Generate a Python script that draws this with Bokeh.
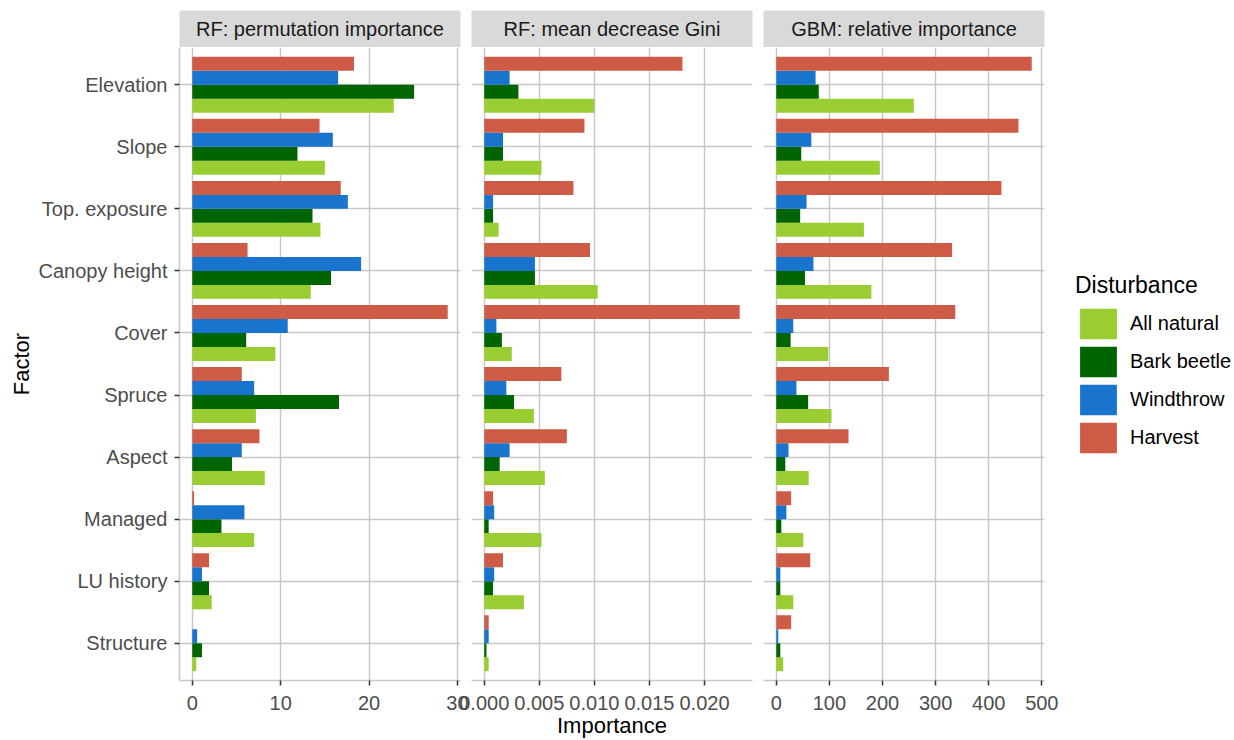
from bokeh.plotting import figure
from bokeh.models import (Range1d, FixedTicker, ColumnDataSource, Legend, LegendItem,
                          Label, NumeralTickFormatter, BasicTickFormatter)
from bokeh.layouts import row, column
from bokeh.transform import dodge
from bokeh.embed import file_html
from bokeh.resources import INLINE

FONT = "Liberation Sans"

# ---------------- data ----------------
factors = ["Elevation", "Slope", "Top. exposure", "Canopy height", "Cover",
           "Spruce", "Aspect", "Managed", "LU history", "Structure"]
disturbances = ["All natural", "Bark beetle", "Windthrow", "Harvest"]
panel_titles = ["RF: permutation importance", "RF: mean decrease Gini", "GBM: relative importance"]

perm_ticks = [0, 10, 20, 30]
gini_ticks = [0.0, 0.005, 0.010, 0.015, 0.020]
gbm_ticks = [0, 100, 200, 300, 400, 500]

rf_perm_all_natural = [22.8, 15.0, 14.5, 13.4, 9.4, 7.2, 8.2, 7.0, 2.2, 0.45]
rf_perm_bark_beetle = [25.1, 11.9, 13.6, 15.7, 6.1, 16.6, 4.5, 3.3, 1.9, 1.1]
rf_perm_windthrow = [16.5, 15.9, 17.6, 19.1, 10.8, 7.0, 5.6, 5.9, 1.1, 0.55]
rf_perm_harvest = [18.3, 14.4, 16.8, 6.25, 28.9, 5.6, 7.6, 0.2, 1.9, 0.0]

rf_gini_all_natural = [0.0100, 0.0052, 0.0013, 0.0103, 0.0025, 0.0045, 0.0055, 0.0052, 0.0036, 0.0004]
rf_gini_bark_beetle = [0.0031, 0.0017, 0.0008, 0.0046, 0.0016, 0.0027, 0.0014, 0.0004, 0.0008, 0.0002]
rf_gini_windthrow = [0.0023, 0.0017, 0.0008, 0.0046, 0.0011, 0.0020, 0.0023, 0.0009, 0.0009, 0.0004]
rf_gini_harvest = [0.0180, 0.0091, 0.0081, 0.0096, 0.0232, 0.0070, 0.0075, 0.0008, 0.0017, 0.0004]

gbm_all_natural = [259, 195, 165, 179, 98, 104, 61, 51, 32, 13]
gbm_bark_beetle = [80, 47, 45, 54, 27, 60, 17, 9.5, 7.6, 7.6]
gbm_windthrow = [74, 66, 57, 70, 32, 38, 23, 19, 7.6, 3.8]
gbm_harvest = [481, 456, 424, 331, 337, 212, 136, 28, 64, 28]

# ---------------- style ----------------
bar_colors = ["#9ACD32", "#006400", "#1874CD", "#CD5B45"]
GRID = "#C8C8C8"
TICK = "#333333"
LABEL = "#4D4D4D"
STRIP = "#D9D9D9"

N = len(factors)
ypos = [N - i for i in range(N)]
group_width = 0.9
bar_h = group_width / len(disturbances)


def style_axis(ax, standoff):
    ax.axis_line_color = GRID
    ax.axis_line_width = 1.5
    ax.major_tick_line_color = TICK
    ax.major_tick_line_width = 1.5
    ax.major_tick_in = 0
    ax.major_tick_out = 5
    ax.minor_tick_line_color = None
    ax.major_label_text_font = FONT
    ax.major_label_text_font_size = "20px"
    ax.major_label_text_color = LABEL
    ax.major_label_standoff = standoff
    ax.axis_label_text_font = FONT
    ax.axis_label_text_font_size = "22px"
    ax.axis_label_text_font_style = "normal"
    ax.axis_label_text_color = "#000000"
    ax.axis_label_standoff = 0


def make_strip(title, left, right):
    s = figure(frame_width=281, frame_height=37, x_range=(0, 1), y_range=(0, 1),
               x_axis_location=None, y_axis_location=None, toolbar_location=None,
               output_backend="svg", min_border_left=left, min_border_right=right,
               min_border_top=10, min_border_bottom=0,
               background_fill_color=STRIP, outline_line_color=None, border_fill_alpha=0)
    s.xgrid.visible = False
    s.ygrid.visible = False
    s.add_layout(Label(x=0.5, y=0.5, text=title, text_align="center", text_baseline="middle",
                       text_font=FONT, text_font_size="20px", text_color="#1A1A1A"))
    return s


def make_panel(series, ticks, fmt, left, right, show_y, xlabel):
    allv = [v for s in series for v in s]
    lo, hi = min(0, min(allv)), max(allv)
    pad = 0.05 * (hi - lo)
    p = figure(frame_width=281, frame_height=633,
               x_range=Range1d(lo - pad, hi + pad), y_range=Range1d(0.4, N + 0.6),
               x_axis_location="below", y_axis_location="left" if show_y else None,
               toolbar_location=None, output_backend="svg",
               min_border_left=left, min_border_right=right, min_border_top=0, min_border_bottom=0,
               background_fill_color="white", outline_line_color=None, border_fill_alpha=0)
    renderers = []
    for k, (vals, col) in enumerate(zip(series, bar_colors)):
        src = ColumnDataSource(dict(y=ypos, value=vals, factor=factors))
        off = (k - (len(disturbances) - 1) / 2) * bar_h
        r = p.hbar(y=dodge("y", off), right="value", left=0, height=bar_h, source=src,
                   fill_color=col, line_color=None)
        renderers.append(r)
    p.xaxis.ticker = FixedTicker(ticks=ticks)
    p.xaxis.formatter = fmt
    style_axis(p.xaxis[0], 10)
    if xlabel:
        p.xaxis.axis_label = xlabel
    p.xgrid.ticker = FixedTicker(ticks=ticks)
    p.ygrid.ticker = FixedTicker(ticks=ypos)
    for g in (p.xgrid[0], p.ygrid[0]):
        g.grid_line_color = GRID
        g.grid_line_width = 1.5
    if show_y:
        p.yaxis.ticker = FixedTicker(ticks=ypos)
        p.yaxis.major_label_overrides = {y: f for y, f in zip(ypos, factors)}
        p.yaxis.axis_label = "Factor"
        style_axis(p.yaxis[0], 7)
        p.yaxis.axis_label_standoff = 2
    return p, renderers


p1, _ = make_panel([rf_perm_all_natural, rf_perm_bark_beetle, rf_perm_windthrow, rf_perm_harvest],
                   perm_ticks, BasicTickFormatter(), 179, 20, True, None)
p2, _ = make_panel([rf_gini_all_natural, rf_gini_bark_beetle, rf_gini_windthrow, rf_gini_harvest],
                   gini_ticks, NumeralTickFormatter(format="0.000"), 40, 20, False, "Importance")
p3, r3 = make_panel([gbm_all_natural, gbm_bark_beetle, gbm_windthrow, gbm_harvest],
                    gbm_ticks, BasicTickFormatter(), 40, 5, False, None)

legend = Legend(items=[LegendItem(label=d, renderers=[r]) for d, r in zip(disturbances, r3)],
                location="center_left", title="Disturbance",
                title_text_font=FONT, title_text_font_size="23px", title_text_font_style="normal",
                title_text_color="#000000", title_standoff=6,
                label_text_font=FONT, label_text_font_size="20px", label_text_color="#000000",
                glyph_width=46, glyph_height=38, spacing=0, label_standoff=9,
                padding=0, margin=31, border_line_color=None, background_fill_alpha=0)
p3.add_layout(legend, "right")

s1 = make_strip(panel_titles[0], 179, 20)
s2 = make_strip(panel_titles[1], 40, 20)
s3 = make_strip(panel_titles[2], 40, 5)

col1 = column(s1, p1)
col2 = column(s2, p2, margin=(0, 0, 0, -49))
col3 = column(s3, p3, margin=(0, 0, 0, -49))
root = row(col1, col2, col3)

open("out.html", "w").write(file_html(root, INLINE))
